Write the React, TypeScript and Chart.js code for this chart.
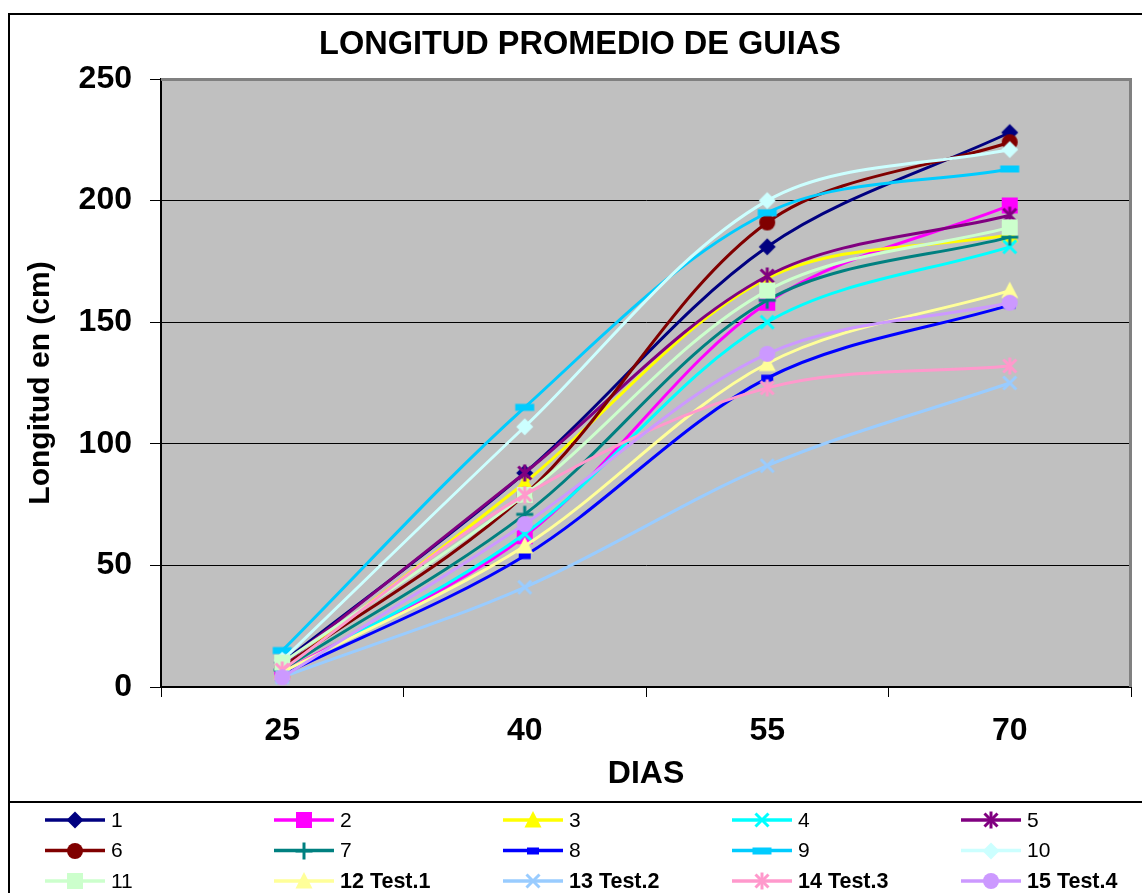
import React, { useEffect, useRef } from 'react';
import { Chart, registerables } from 'chart.js';

Chart.register(...registerables);

// ---------- data ----------
const TITLE = 'LONGITUD PROMEDIO DE GUIAS';
const X_TITLE = 'DIAS';
const Y_TITLE = 'Longitud en (cm)';
const DAYS = ['25', '40', '55', '70'];
const Y_TICK_MIN = 0;
const Y_TICK_MAX = 250;
const Y_TICK_STEP = 50;

const SERIES_NAMES = ['1', '2', '3', '4', '5', '6', '7', '8', '9', '10', '11', '12 Test.1', '13 Test.2', '14 Test.3', '15 Test.4'];

const S1 = [10, 88, 181, 228];
const S2 = [6, 62, 158, 198];
const S3 = [7, 84, 168, 186];
const S4 = [5, 63, 150, 181];
const S5 = [9, 88, 169, 194];
const S6 = [8, 79, 191, 224];
const S7 = [7, 71, 159, 185];
const S8 = [5, 54, 127, 157];
const S9 = [15, 115, 195, 213];
const S10 = [11, 107, 200, 221];
const S11 = [10, 79, 163, 189];
const S12 = [6, 58, 133, 163];
const S13 = [4, 41, 91, 125];
const S14 = [7, 79, 123, 132];
const S15 = [4, 67, 137, 158];

const SERIES_VALUES = [S1, S2, S3, S4, S5, S6, S7, S8, S9, S10, S11, S12, S13, S14, S15];

const COLORS = ['#000080', '#FF00FF', '#FFFF00', '#00FFFF', '#800080', '#800000', '#008080', '#0000FF', '#00CCFF', '#CCFFFF', '#CCFFCC', '#FFFF99', '#99CCFF', '#FF99CC', '#CC99FF'];
const MARKERS = ['diamond', 'square', 'triangle', 'x', 'star', 'circle', 'plus', 'shortbar', 'longbar', 'diamond', 'square', 'triangle', 'x', 'star', 'circle'];

const FONT = '"Liberation Sans", Arial, Helvetica, sans-serif';

function makeMarker(kind: string, color: string): HTMLCanvasElement {
  const s = 22;
  const c = document.createElement('canvas');
  c.width = s;
  c.height = s;
  const g = c.getContext('2d') as CanvasRenderingContext2D;
  const m = s / 2;
  g.fillStyle = color;
  g.strokeStyle = color;
  g.lineWidth = 3;
  g.lineCap = 'butt';
  const line = (x1: number, y1: number, x2: number, y2: number) => {
    g.beginPath();
    g.moveTo(x1, y1);
    g.lineTo(x2, y2);
    g.stroke();
  };
  switch (kind) {
    case 'diamond':
      g.beginPath();
      g.moveTo(m, m - 8.5);
      g.lineTo(m + 8.5, m);
      g.lineTo(m, m + 8.5);
      g.lineTo(m - 8.5, m);
      g.closePath();
      g.fill();
      break;
    case 'square':
      g.fillRect(m - 8, m - 8, 16, 16);
      break;
    case 'triangle':
      g.beginPath();
      g.moveTo(m, m - 9);
      g.lineTo(m + 8.5, m + 7.5);
      g.lineTo(m - 8.5, m + 7.5);
      g.closePath();
      g.fill();
      break;
    case 'x':
      line(m - 6.5, m - 6.5, m + 6.5, m + 6.5);
      line(m - 6.5, m + 6.5, m + 6.5, m - 6.5);
      break;
    case 'star':
      line(m - 6.5, m - 6.5, m + 6.5, m + 6.5);
      line(m - 6.5, m + 6.5, m + 6.5, m - 6.5);
      line(m, m - 8.5, m, m + 8.5);
      break;
    case 'circle':
      g.beginPath();
      g.arc(m, m, 8, 0, Math.PI * 2);
      g.fill();
      break;
    case 'plus':
      line(m, m - 8.5, m, m + 8.5);
      line(m - 8.5, m, m + 8.5, m);
      break;
    case 'shortbar':
      g.fillRect(m - 6, m - 3.5, 12, 7);
      break;
    case 'longbar':
      g.fillRect(m - 9.5, m - 3.5, 19, 7);
      break;
  }
  return c;
}

export default function App() {
  const ref = useRef<HTMLCanvasElement | null>(null);

  useEffect(() => {
    const canvas = ref.current;
    if (!canvas) return;
    const markers = MARKERS.map((k, i) => makeMarker(k, COLORS[i]));

    const framePlugin = {
      id: 'excelFrame',
      beforeDraw(chart: any) {
        const { ctx, chartArea: a, width, height } = chart;
        ctx.save();
        ctx.fillStyle = '#FFFFFF';
        ctx.fillRect(0, 0, width, height);
        ctx.fillStyle = '#C0C0C0';
        ctx.fillRect(a.left, a.top, a.right - a.left, a.bottom - a.top);
        ctx.restore();
      },
      beforeDatasetsDraw(chart: any) {
        const { ctx, chartArea: a } = chart;
        ctx.save();
        ctx.strokeStyle = '#808080';
        ctx.lineWidth = 3;
        ctx.beginPath();
        ctx.moveTo(a.left, a.top + 0.5);
        ctx.lineTo(a.right - 0.5, a.top + 0.5);
        ctx.lineTo(a.right - 0.5, a.bottom);
        ctx.stroke();
        ctx.restore();
      },
      afterDraw(chart: any) {
        const { ctx, width, height } = chart;
        ctx.save();
        // outer chart border
        ctx.strokeStyle = '#000000';
        ctx.lineWidth = 2;
        ctx.beginPath();
        ctx.moveTo(9, height);
        ctx.lineTo(9, 14);
        ctx.lineTo(width, 14);
        ctx.stroke();
        // legend separator
        ctx.beginPath();
        ctx.moveTo(9, 802);
        ctx.lineTo(width, 802);
        ctx.stroke();
        // legend entries
        SERIES_NAMES.forEach((name, i) => {
          const col = i % 5;
          const row = Math.floor(i / 5);
          const x0 = 45 + col * 229;
          const y = 820 + row * 30.5;
          ctx.strokeStyle = COLORS[i];
          ctx.lineWidth = 3.5;
          ctx.beginPath();
          ctx.moveTo(x0, y);
          ctx.lineTo(x0 + 60, y);
          ctx.stroke();
          ctx.drawImage(markers[i], Math.round(x0 + 30 - 11), Math.round(y - 11));
          ctx.fillStyle = '#000000';
          ctx.textBaseline = 'middle';
          ctx.textAlign = 'left';
          ctx.font = (i >= 11 ? 'bold 21.5px ' : '21px ') + FONT;
          ctx.fillText(name, x0 + 66, y + 1);
        });
        ctx.restore();
      },
    };

    const datasets = SERIES_VALUES.map((vals, i) => ({
      label: SERIES_NAMES[i],
      data: vals,
      borderColor: COLORS[i],
      backgroundColor: COLORS[i],
      borderWidth: 3,
      tension: 0.33,
      fill: false,
      pointStyle: markers[i],
      pointRadius: 8,
      pointHoverRadius: 8,
      order: SERIES_VALUES.length - 1 - i,
    }));

    const chart = new Chart(canvas, {
      type: 'line',
      data: { labels: DAYS, datasets },
      options: {
        responsive: false,
        animation: false,
        devicePixelRatio: 1,
        events: [],
        font: { family: FONT },
        layout: { padding: { left: 27, right: 9, top: 0, bottom: 91 } },
        plugins: {
          legend: { display: false },
          tooltip: { enabled: false },
          title: {
            display: true,
            text: TITLE,
            color: '#000000',
            font: { family: FONT, size: 32.5, weight: 'bold' },
            padding: { top: 26, bottom: 14 },
          },
        },
        scales: {
          x: {
            type: 'category',
            offset: true,
            grid: {
              offset: true,
              drawOnChartArea: false,
              drawTicks: true,
              tickLength: 10,
              color: '#000000',
              tickColor: '#000000',
              lineWidth: 1,
            },
            border: { color: '#000000', width: 2 },
            ticks: {
              color: '#000000',
              font: { family: FONT, size: 32, weight: 'bold' },
              padding: 15,
              maxRotation: 0,
              autoSkip: false,
            },
            title: {
              display: true,
              text: X_TITLE,
              color: '#000000',
              font: { family: FONT, size: 32, weight: 'bold' },
              padding: { top: 0, bottom: 9 },
            },
            afterFit: (s: any) => {
              s.height = 115;
            },
          },
          y: {
            min: Y_TICK_MIN,
            max: Y_TICK_MAX,
            grid: {
              drawTicks: true,
              tickLength: 11,
              color: (c: any) =>
                c.tick && (c.tick.value === Y_TICK_MIN || c.tick.value === Y_TICK_MAX) ? 'rgba(0,0,0,0)' : '#000000',
              tickColor: '#000000',
              lineWidth: 1,
            },
            border: { color: '#000000', width: 2 },
            ticks: {
              stepSize: Y_TICK_STEP,
              color: '#000000',
              font: { family: FONT, size: 32, weight: 'bold' },
              padding: 18,
            },
            title: {
              display: true,
              text: Y_TITLE,
              color: '#000000',
              font: { family: FONT, size: 30, weight: 'bold' },
              padding: { top: -4, bottom: 0 },
            },
            afterFit: (s: any) => {
              s.width = 134;
            },
          },
        },
      } as any,
      plugins: [framePlugin],
    });

    return () => {
      chart.destroy();
    };
  }, []);

  return (
    <canvas
      ref={ref}
      width={1142}
      height={893}
      style={{ position: 'fixed', left: 0, top: 0, width: 1142, height: 893, display: 'block' }}
    />
  );
}
